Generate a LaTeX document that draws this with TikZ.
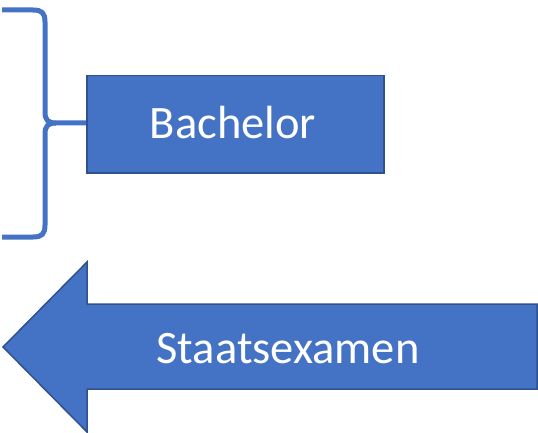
\documentclass[tikz,border=0pt]{standalone}
\usepackage{fontspec}
\setmainfont{Carlito}
\definecolor{fillblue}{HTML}{4472C4}
\definecolor{edgeblue}{HTML}{2F528F}
\tikzset{
  shapeblue/.style={fill=fillblue,draw=edgeblue,line width=1.5pt,line join=miter},
  bracestyle/.style={draw=fillblue,line width=5pt},
  label/.style={text=white,font=\fontsize{46.5}{52}\selectfont,inner sep=0pt,anchor=base}
}
\begin{document}
\begin{tikzpicture}[x=1pt,y=-1pt]
\useasboundingbox (0,0) rectangle (538,433);
% brace
\draw[bracestyle] (2,10) -- (33,10) .. controls (42,10) and (45,13) .. (45,22)
  -- (45,112) .. controls (45,120) and (48,123) .. (56,123) -- (86,123);
\draw[bracestyle] (2,237) -- (33,237) .. controls (42,237) and (45,234) .. (45,225)
  -- (45,134) .. controls (45,126) and (48,123) .. (56,123);
% box
\node[shapeblue,minimum width=297pt,minimum height=97pt,anchor=north west,inner sep=0pt] (bachelor) at (86,75) {};
\node[label] (bachelortext) at (233,139) {Bachelor};
% arrow
\draw[shapeblue] (3,347) -- (87,262) -- (87,304) -- (537,304) -- (537,389) -- (87,389) -- (87,432) -- cycle;
\coordinate (arrowc) at (288,363);
\node[label] (staats) at (arrowc) {Staatsexamen};
\end{tikzpicture}
\end{document}
